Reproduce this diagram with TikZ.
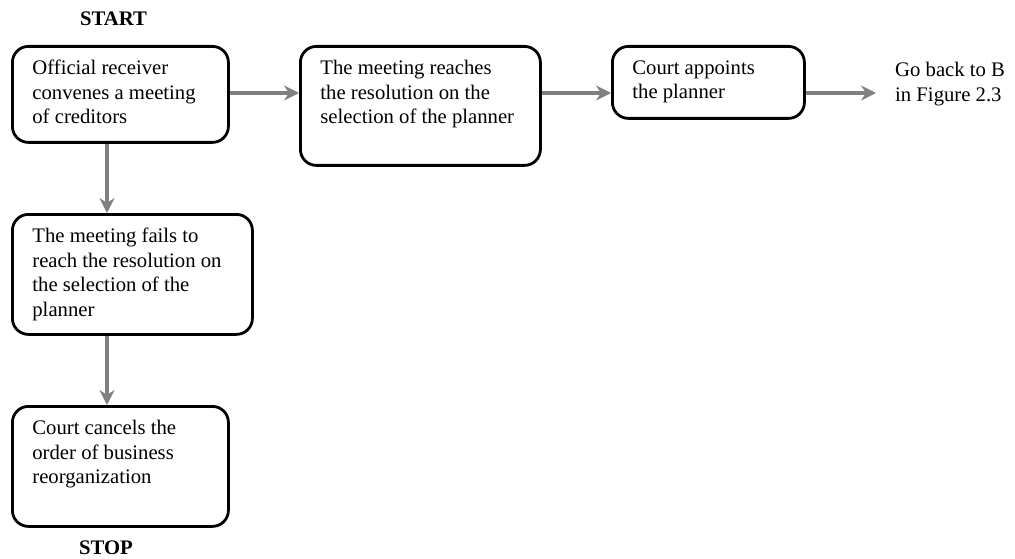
\documentclass[tikz,border=0pt]{standalone}
\usepackage{fontspec}
\setmainfont{Liberation Serif}
\usetikzlibrary{arrows.meta}

% text block inside a rounded box: width and height of the box in pt
\newcommand\boxbody[3]{\parbox[t][\dimexpr#2pt-28pt\relax][t]{\dimexpr#1pt-40pt\relax}{\raggedright #3}}

\begin{document}
\begin{tikzpicture}[x=1pt,y=-1pt,
  every node/.style={font=\fontsize{20.7}{24.5}\selectfont},
  stepbox/.style={draw=black, line width=2.8pt, rounded corners=16pt,
    inner xsep=20pt, inner ysep=14pt, anchor=north west},
  flow/.style={draw={rgb,255:red,128;green,128;blue,128}, line width=4pt,
    -{Stealth[length=15pt,width=15pt,inset=5pt]}},
  term/.style={font=\fontsize{20.7}{24.5}\selectfont\bfseries, anchor=base, inner sep=0pt}]
\useasboundingbox (0,0) rectangle (1015,559);

% terminals
\node[term] (start) at (113.5,26) {START};
\node[term] (stop) at (106,554) {STOP};

% process steps
\node[stepbox] (b1) at (11,45)
  {\boxbody{216}{96}{Official receiver\\convenes a meeting\\of creditors}};
\node[stepbox] (b2) at (299,45)
  {\boxbody{240}{119}{The meeting reaches\\the resolution on the\\selection of the planner}};
\node[stepbox] (b3) at (611,45)
  {\boxbody{192}{72}{Court appoints\\the planner}};
\node[stepbox] (b4) at (11,213)
  {\boxbody{240}{120}{The meeting fails to\\reach the resolution on\\the selection of the\\planner}};
\node[stepbox] (b5) at (11,405)
  {\boxbody{216}{120}{Court cancels the\\order of business\\reorganization}};

% continuation note
\node[anchor=north west, inner sep=0pt] (goback) at (895,62)
  {\parbox[t]{120pt}{Go back to B\\in Figure 2.3}};

% guide positions for the connectors
\coordinate (row) at (0,93);
\coordinate (col) at (107,0);
\coordinate (outend) at (876,93);

% connectors
\draw[flow] (b1.east |- row) -- (b2.west |- row);
\draw[flow] (b2.east |- row) -- (b3.west |- row);
\draw[flow] (b3.east |- row) -- (outend);
\draw[flow] (b1.south -| col) -- (b4.north -| col);
\draw[flow] (b4.south -| col) -- (b5.north -| col);
\end{tikzpicture}
\end{document}
